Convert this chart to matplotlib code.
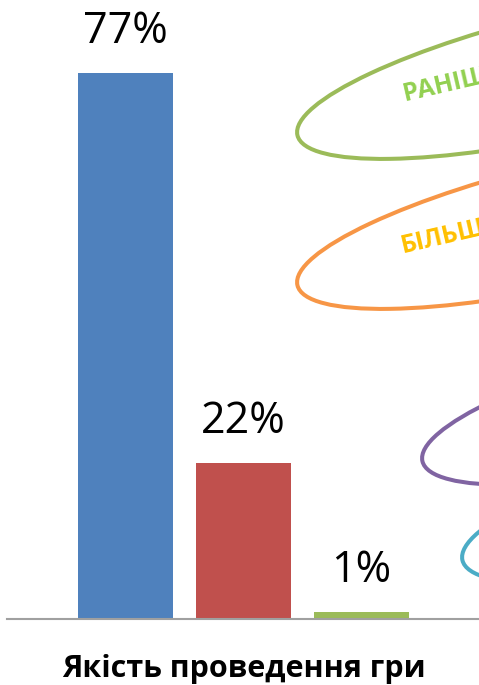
import matplotlib
matplotlib.use("Agg")
import matplotlib.pyplot as plt
from matplotlib.patches import Ellipse

categories = ["Якість проведення гри"]
series_values = [77, 22, 1]
value_labels = ["77%", "22%", "1%"]
bar_colors = ["#4F81BD", "#C0504D", "#9BBB59"]

ellipse_notes = ["РАНІШЕ", "БІЛЬШЕ", "", ""]
ellipse_colors = ["#9BBB59", "#F79646", "#8064A2", "#4BACC6"]
note_colors = ["#92D050", "#FFC000", "", ""]

plt.rcParams['font.family'] = ['Open Sans', 'DejaVu Sans']

W, H = 479, 685
fig = plt.figure(figsize=(W / 100, H / 100), dpi=100)

base_y = 619
left_px = 7
ax = fig.add_axes([left_px / W, (H - base_y) / H, (W - left_px) / W, base_y / H])
unit = 118.0
x0 = -(125.5 - left_px) / unit
ax.set_xlim(x0, x0 + (W - left_px) / unit)
px_per_pct = 546 / 77
ax.set_ylim(0, base_y / px_per_pct)

xs = list(range(len(series_values)))
bars = ax.bar(xs, series_values, width=95 / unit, color=bar_colors, zorder=2)
for x, v, lab in zip(xs, series_values, value_labels):
    ax.annotate(lab, (x, v), xytext=(0, 30 * 0.72), textcoords="offset points",
                ha="center", va="baseline", fontsize=31, color="black")

for s in ["top", "right", "left"]:
    ax.spines[s].set_visible(False)
ax.spines["bottom"].set_color("#A0A0A0")
ax.spines["bottom"].set_linewidth(1.5)
ax.set_yticks([])
ax.set_xticks([])
ax.annotate(categories[0], (1, 0), xytext=(0, -58 * 0.72), textcoords="offset points",
            ha="center", va="baseline", fontsize=22, fontweight="bold", color="black",
            annotation_clip=False)

ov = fig.add_axes([0, 0, 1, 1])
ov.set_xlim(0, W)
ov.set_ylim(H, 0)
ov.axis("off")
ov.patch.set_alpha(0)

centers = [(580, 70), (580, 220), (705, 396), (745, 495)]
for (cx, cy), col in zip(centers, ellipse_colors):
    ov.add_patch(Ellipse((cx, cy), 580, 124, angle=-13, fill=False,
                         edgecolor=col, linewidth=2.9))

note_pos = [(405, 101), (403, 253)]
for (tx, ty), txt, col in zip(note_pos, ellipse_notes, note_colors):
    ov.text(tx, ty, txt, rotation=13, rotation_mode="anchor", ha="left", va="baseline",
            fontsize=18, fontweight="bold", color=col)

fig.savefig("out.png", dpi=100)
